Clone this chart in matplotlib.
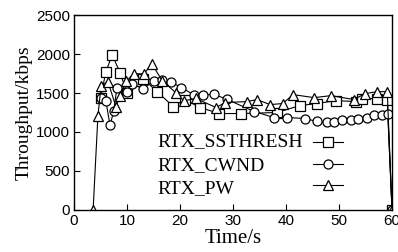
import matplotlib
matplotlib.use("Agg")
import matplotlib.pyplot as plt

# RTX_SSTHRESH (squares)
ss_t = [5.0, 6.0, 7.2, 8.7, 10.0, 11.5, 13.0, 15.7, 18.7, 20.9, 23.8, 27.4, 31.5,
        38.3, 42.6, 45.8, 49.4, 53.2, 54.3, 57.2, 59.1, 60.0]
ss_v = [1430, 1773, 1990, 1760, 1500, 1650, 1684, 1518, 1327, 1416, 1314, 1237, 1237,
        1250, 1339, 1365, 1403, 1390, 1429, 1429, 1416, 0]

# RTX_CWND (circles)
cw_t = [5.0, 6.0, 6.8, 7.5, 8.1, 10.0, 10.9, 13.0, 15.1, 16.6, 18.3, 20.2, 22.6,
        24.4, 26.4, 28.8, 34.0, 37.7, 40.2, 43.6, 45.8, 47.7, 49.1, 50.6, 52.3, 53.6,
        55.3, 56.6, 58.1, 59.2, 60.0]
cw_v = [1430, 1400, 1084, 1275, 1569, 1518, 1620, 1556, 1658, 1671, 1645, 1569, 1480,
        1475, 1485, 1420, 1263, 1186, 1186, 1173, 1135, 1122, 1122, 1148, 1148, 1173,
        1186, 1212, 1224, 1237, 0]

# RTX_PW (triangles)
pw_t = [3.6, 4.5, 5.1, 6.4, 7.9, 8.7, 9.8, 11.3, 13.2, 14.7, 16.6, 19.2, 20.7, 23.0,
        26.8, 28.5, 32.6, 34.5, 37.0, 39.4, 41.3, 45.3, 48.5, 52.8, 54.9, 57.2, 59.1, 60.0]
pw_v = [0, 1199, 1594, 1645, 1327, 1467, 1650, 1747, 1747, 1875, 1660, 1505, 1400, 1430,
        1314, 1378, 1390, 1416, 1352, 1365, 1480, 1441, 1467, 1416, 1492, 1518, 1518, 0]

labels = ["RTX_SSTHRESH", "RTX_CWND", "RTX_PW"]
x_ticks = [0, 10, 20, 30, 40, 50, 60]
y_ticks = [0, 500, 1000, 1500, 2000, 2500]

fig = plt.figure(figsize=(3.98, 2.52), dpi=100)
ax = fig.add_axes([0.186, 0.167, 0.799, 0.773])

style = dict(color="black", lw=0.8, markerfacecolor="white", markeredgecolor="black",
             markersize=6.5, markeredgewidth=0.9)
h1, = ax.plot(ss_t, ss_v, marker="s", **style)
h2, = ax.plot(cw_t, cw_v, marker="o", **style)
h3, = ax.plot(pw_t, pw_v, marker="^", **style)

ax.set_xlim(0, 60)
ax.set_ylim(0, 2500)
ax.set_xticks(x_ticks)
ax.set_yticks(y_ticks)
ax.tick_params(direction="in", length=4, width=0.8, labelsize=11, pad=3,
               top=False, right=False)
for lab in ax.get_xticklabels() + ax.get_yticklabels():
    lab.set_family("Liberation Sans")
for sp in ax.spines.values():
    sp.set_linewidth(1.0)

ax.set_xlabel("Time/s", family="Liberation Serif", fontsize=15, labelpad=1)
ax.set_ylabel("Throughput/kbps", family="Liberation Serif", fontsize=14, labelpad=2)

# legend: left-aligned labels, handles to the right
row_y = [0.349, 0.226, 0.108]
for lbl, yy in zip(labels, row_y):
    ax.text(0.261, yy, lbl, transform=ax.transAxes, family="Liberation Serif",
            fontsize=14, ha="left", va="center")
leg = ax.legend([h1, h2, h3], ["", "", ""], loc="center", bbox_to_anchor=(0.80, 0.228),
                frameon=False, prop={"family": "Liberation Serif", "size": 14},
                handlelength=1.55, handletextpad=0.0, labelspacing=0.22, borderpad=0.0)

fig.savefig("out.png", dpi=100)
